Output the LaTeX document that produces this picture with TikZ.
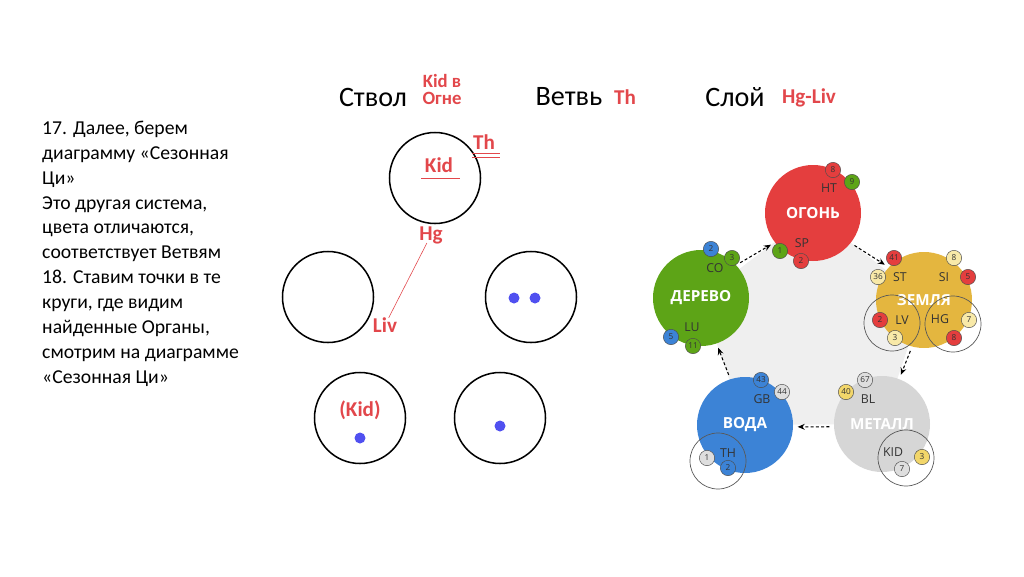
\documentclass[tikz,border=0pt]{standalone}
\usepackage{fontspec}
\setmainfont{Carlito}
\newfontfamily\chartfont{Open Sans}
\usetikzlibrary{arrows.meta, positioning}
\definecolor{inkred}{HTML}{E2474B}
\definecolor{dotblue}{HTML}{5050F0}
\definecolor{fire}{HTML}{E43E3E}
\definecolor{wood}{HTML}{5DA417}
\definecolor{earth}{HTML}{E4B63F}
\definecolor{water}{HTML}{3C83D6}
\definecolor{metal}{HTML}{D6D6D6}
\definecolor{pale}{HTML}{F8E9A8}
\definecolor{gold}{HTML}{F2D66A}
\definecolor{ash}{HTML}{DEDEDE}
\definecolor{pentbg}{HTML}{EFEFEF}
\definecolor{organ}{HTML}{333333}

\begin{document}
\begin{tikzpicture}[x=0.03cm, y=-0.03cm,
    every node/.style={font=\fontsize{16.8}{21.2}\selectfont},
    head/.style={font=\fontsize{24}{26}\selectfont},
    note/.style={font=\fontsize{18}{17}\selectfont\bfseries, text=inkred, inner sep=1pt},
    ring/.style={circle, draw=black, line width=1.3pt, minimum size=2.73cm},
    dot/.style={circle, fill=dotblue, inner sep=0pt, minimum size=0.33cm},
    elem/.style={circle, inner sep=0pt, minimum size=2.88cm, outer sep=4pt,
                 font=\chartfont\fontsize{13}{15}\selectfont\bfseries, text=white},
    grp/.style={circle, draw=black!65, line width=0.6pt, minimum size=1.68cm},
    org/.style={font=\chartfont\fontsize{10.5}{12}\selectfont, text=organ, inner sep=0pt},
    pip/.style={circle, draw=black!70, line width=0.4pt, inner sep=0pt,
                minimum size=0.46cm, font=\chartfont\fontsize{7}{8}\selectfont, text=organ},
    flow/.style={-{Stealth[length=6pt, width=5pt]}, line width=0.9pt,
                 dash pattern=on 2.5pt off 2pt},
]
\useasboundingbox (0,0) rectangle (1024,576);

% ---------------- text on the left
\node[anchor=north west, align=left, inner sep=0pt] (story) at (42,121)
  {17. Далее, берем\\диаграмму «Сезонная\\Ци»\\Это другая система,\\цвета отличаются,\\соответствует Ветвям\\18. Ставим точки в те\\круги, где видим\\найденные Органы,\\смотрим на диаграмме\\«Сезонная Ци»};

% ---------------- header
\node[head] (stvol) at (373,97) {Ствол};
\node[note, align=center, font=\fontsize{16}{14.5}\selectfont\bfseries] (stvolval) at (442,89) {Kid в\\Огне};
\node[head] (vetv) at (569,97) {Ветвь};
\node[note] (vetvval) at (625,97) {Th};
\node[head] (sloi) at (735,97) {Слой};
\node[note] (sloival) at (809,98) {Hg-Liv};

% ---------------- five circles
\node[ring] (top) at (435,178) {};
\node[ring] (midl) at (328,297) {};
\node[ring] (midr) at (531,297) {};
\node[ring] (botl) at (360,418) {};
\node[ring] (botr) at (500,418) {};

\node[note] (kid) at (439,165) {Kid};
\draw[inkred, line width=0.6pt] (421,178) -- (460,178);
\node[note] (th) at (484,142) {Th};
\draw[inkred, line width=0.6pt] (472,153) -- (500,153);
\draw[inkred, line width=0.6pt] (472,157) -- (500,157);
\node[note] (hg) at (431,235) {Hg};
\node[note] (liv) at (385,325) {Liv};
\draw[inkred, line width=0.5pt, shorten <=7.7pt, shorten >=6.9pt] (hg.center) -- (liv.center);
\node[note] (kidp) at (360,410) {(Kid)};

\node[dot] (dotA) at (514,298) {};
\node[dot] (dotB) at (535,298) {};
\node[dot] (dotC) at (360,438) {};
\node[dot] (dotD) at (500,426) {};

% ---------------- seasonal qi
\coordinate (cFire) at (813,213);
\coordinate (cWood) at (701,298);
\coordinate (cEarth) at (924,300);
\coordinate (cWater) at (745,425);
\coordinate (cMetal) at (882,424);
\fill[pentbg] (cFire) -- (cEarth) -- (cMetal) -- (cWater) -- (cWood) -- cycle;

\node[elem, fill=fire] (ogon) at (cFire) {ОГОНЬ};
\node[elem, fill=wood] (derevo) at (cWood) {ДЕРЕВО};
\node[elem, fill=earth] (zemlya) at (cEarth) {ЗЕМЛЯ};
\node[elem, fill=water] (voda) at (cWater) {ВОДА};
\node[elem, fill=metal] (metall) at (cMetal) {МЕТАЛЛ};

\draw[flow] (derevo.42) -- (ogon.217);
\draw[flow] (ogon.-38) -- (zemlya.138);
\draw[flow] (zemlya.255) -- (metall.69);
\draw[flow] (metall.183) -- (voda.-2);
\draw[flow] (voda.108) -- (derevo.289);

\node[grp] (gLV) at (892,323) {};
\node[grp] (gHG) at (953,324) {};
\node[grp] (gTH) at (718,461) {};
\node[grp] (gKID) at (906,458) {};

\foreach \x/\y/\t [count=\k] in {829/188/HT, 802/243/SP, 715/268/CO, 692/327/LU,
        900/277/ST, 944/277/SI, 902/320/LV, 940/319/HG,
        762/399/GB, 728/453/TH, 868/399/BL, 893/452/KID}
    \node[org] (org\k) at (\x,\y) {\t};

\foreach \x/\y/\c/\t [count=\k] in {833/170/fire/8, 852/182/wood/9, 780/251/wood/1, 801/261/fire/2,
        711/249/water/2, 732/258/wood/3, 671/337/water/5, 693/346/wood/11,
        894/258/fire/41, 878/277/pale/36, 954/258/pale/8, 968/277/fire/5,
        880/320/fire/2, 895/338/pale/3, 969/320/pale/7, 954/338/fire/8,
        761/380/water/43, 782/392/ash/44, 707/458/ash/1, 728/468/water/2,
        865/380/ash/67, 846/392/gold/40, 922/457/gold/3, 902/469/ash/7}
    \node[pip, fill=\c] (pip\k) at (\x,\y) {\t};
\end{tikzpicture}
\end{document}
